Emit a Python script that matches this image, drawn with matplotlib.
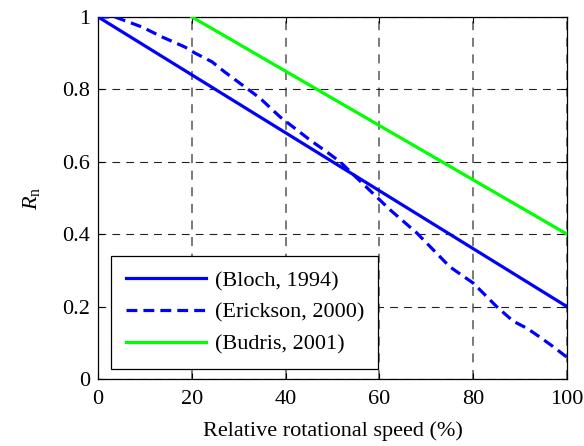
import matplotlib
matplotlib.use("Agg")
import matplotlib.pyplot as plt
import numpy as np

plt.rcParams['font.family'] = ['Liberation Serif', 'DejaVu Serif']
plt.rcParams['mathtext.fontset'] = 'custom'
plt.rcParams['mathtext.rm'] = 'Liberation Serif'
plt.rcParams['mathtext.it'] = 'Liberation Serif:italic'

# Bloch (1994): linear decrease
bloch_x = [0, 100]
bloch_y = [1.0, 0.2]

erickson_x = [0, 3.6, 9.4, 13.6, 18.5, 20.7, 24.3, 27, 34.5, 38.8, 45.2, 48.8,
              51.6, 55.2, 62.3, 68, 75, 80, 85, 88.5, 91.5, 94.2, 97, 100]
erickson_y = [1.0, 1.0, 0.972, 0.945, 0.917, 0.9, 0.876, 0.848, 0.776, 0.724, 0.66, 0.627,
              0.6, 0.555, 0.467, 0.403, 0.31, 0.265, 0.2, 0.16, 0.14, 0.116, 0.09, 0.06]

# Budris (2001): linear decrease from 20 %
budris_x = [20, 100]
budris_y = [1.0, 0.4]

x_ticks = [0, 20, 40, 60, 80, 100]
y_ticks = [0, 0.2, 0.4, 0.6, 0.8, 1]
y_tick_labels = ['0', '0.2', '0.4', '0.6', '0.8', '1']

fig = plt.figure(figsize=(5.84, 4.46), dpi=100)
ax = fig.add_axes([0.168, 0.150, 0.803, 0.812])

ax.plot(bloch_x, bloch_y, color='#0000ff', lw=2.3, label='(Bloch, 1994)', zorder=3)
ax.plot(erickson_x, erickson_y, color='#0000ff', lw=2.3, ls=(0, (3.4, 1.9)),
        label='(Erickson, 2000)', zorder=3)
ax.plot(budris_x, budris_y, color='#00ff00', lw=2.3, label='(Budris, 2001)', zorder=3)

ax.set_xlim(0, 100)
ax.set_ylim(0, 1)
ax.set_xticks(x_ticks)
ax.set_yticks(y_ticks)
ax.set_yticklabels(y_tick_labels)
ax.tick_params(direction='in', top=True, right=True, labelsize=16, length=4, width=0.8)
ax.tick_params(axis='x', pad=8)
ax.tick_params(axis='y', pad=6)

# dashed grid: darker thin horizontals, softer verticals
ax.xaxis.grid(True, color='#707070', ls=(0, (5.0, 4.2)), lw=1.3)
ax.yaxis.grid(True, color='#222222', ls=(0, (7.0, 5.5)), lw=0.8)
for s in ax.spines.values():
    s.set_linewidth(0.9)

ax.set_xlabel('Relative rotational speed (%)', fontsize=16, labelpad=9)
ax.set_ylabel(r'$R_\mathrm{n}$', fontsize=16, labelpad=14)

leg = ax.legend(loc='lower left', bbox_to_anchor=(0.028, 0.028), fontsize=16,
                fancybox=False, framealpha=1, edgecolor='black',
                handlelength=3.6, handletextpad=0.4, borderpad=0.65,
                labelspacing=0.5, borderaxespad=0)
leg.get_frame().set_linewidth(0.9)

fig.savefig('out.png', dpi=100)
